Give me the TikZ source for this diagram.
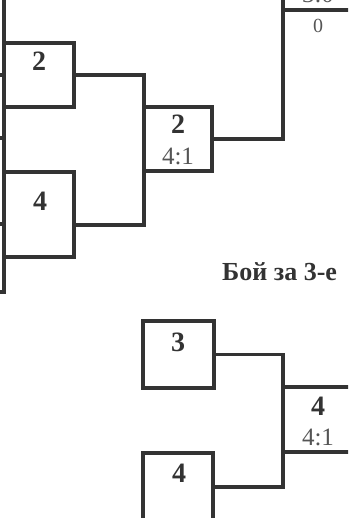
\documentclass[tikz,border=0pt]{standalone}
\usepackage{fontspec}
\setmainfont{Liberation Serif}
\usetikzlibrary{calc}
\definecolor{ink}{HTML}{333333}
\definecolor{score}{HTML}{555555}
\tikzset{
  bline/.style={draw=ink, line width=3.2pt},
  box/.style={bline, rectangle, inner sep=0pt, outer sep=0pt, minimum width=70pt},
  num/.style={anchor=base, inner sep=0pt, text=ink, font=\fontsize{28}{28}\selectfont\bfseries},
  sc/.style={anchor=base, inner sep=0pt, text=score, font=\fontsize{25}{25}\selectfont},
  small/.style={anchor=base, inner sep=0pt, text=score, font=\fontsize{20}{20}\selectfont},
  title/.style={anchor=base west, inner sep=0pt, text=ink, font=\fontsize{26}{26}\selectfont\bfseries},
}
\begin{document}
\begin{tikzpicture}[x=1pt, y=-1pt]
\useasboundingbox (0,0) rectangle (348,518);
\clip (0,0) rectangle (348,518);
% left edge line
\coordinate (Ltop) at (4,-5);
\coordinate (Lbot) at (4,292);
\coordinate (Lend) at (-5,292);
\coordinate (s1) at (-5,75);
\coordinate (s2) at (-5,138);
\coordinate (s3) at (-5,224);
\draw[bline] (Ltop) -- (Lbot) -- (Lend);
\draw[bline] (s1) -- (s1 -| Ltop);
\draw[bline] (s2) -- (s2 -| Ltop);
\draw[bline] (s3) -- (s3 -| Ltop);
% upper bracket
\node[box, minimum height=64pt] (b2) at (39,75) {};
\node[num] (t2) at (39,71) {2};
\node[box, minimum height=85pt] (b4) at (39,214.5) {};
\node[num] (t4) at (40,211) {4};
\node[box, minimum width=68pt, minimum height=64pt] (m) at (178,139) {};
\node[num] (tm) at (178,134) {2};
\node[sc] (sm) at (178,165) {4:1};
\node[box, minimum height=64pt] (t) at (318,-22) {};
\node[sc] (st) at (318,3) {3:0};
\node[small] (zero) at (318,33) {0};
\coordinate (j4) at ([yshift=-10.5pt]b4.east);
\draw[bline] (b2.east) -| (m.north west);
\draw[bline] (j4) -| (m.south west);
\draw[bline] (m.east) -| (t.south west);
% title
\node[title] (ttl) at (222,280) {Бой за 3-е};
% lower bracket
\node[box, minimum width=71pt, minimum height=67pt] (b3) at (178.5,354.5) {};
\node[num] (t3) at (178,351) {3};
\node[box, minimum height=68pt] (b4l) at (178,487) {};
\node[num] (t4l) at (179,482) {4};
\node[box, minimum height=65pt] (r) at (318,419.5) {};
\node[num] (tr) at (318,415) {4};
\node[sc] (sr) at (318,445) {4:1};
\draw[bline] (b3.east) -| (r.north west);
\draw[bline] (b4l.east) -| (r.south west);
\end{tikzpicture}
\end{document}
